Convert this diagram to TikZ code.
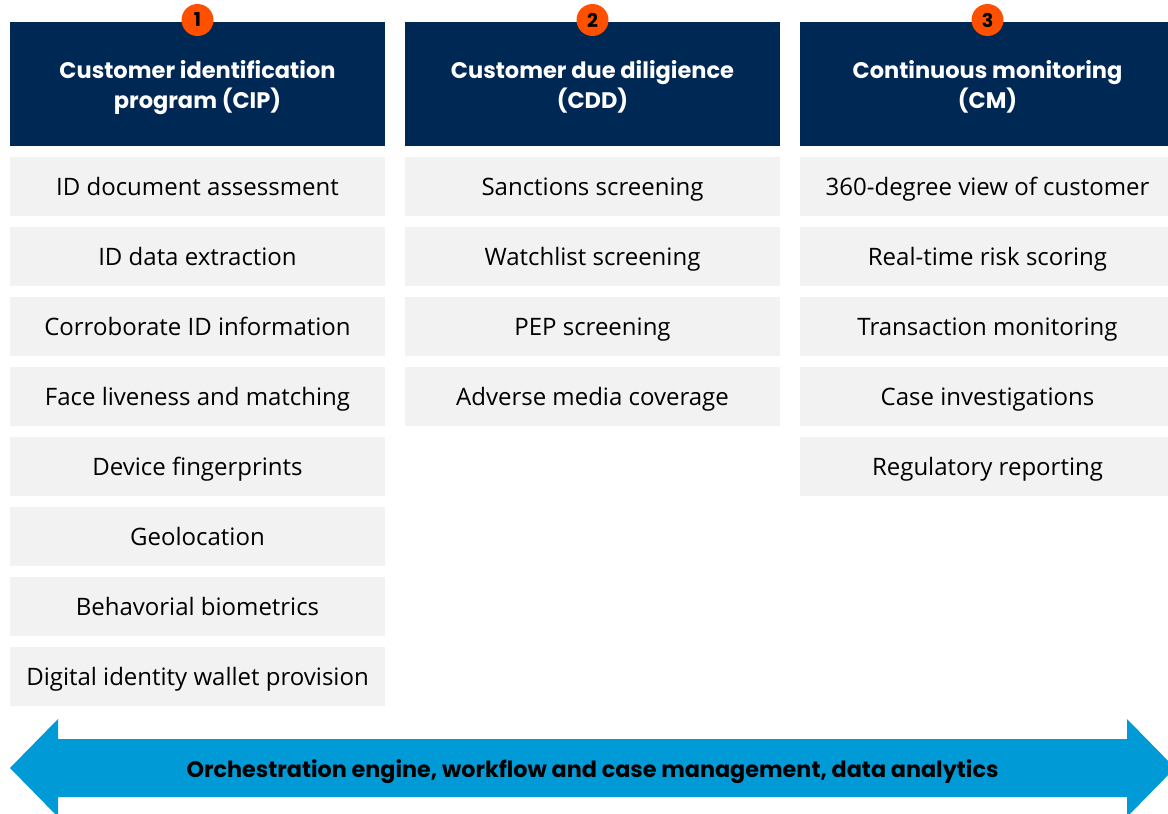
\documentclass[tikz,border=0pt]{standalone}
\usepackage{fontspec}
\setmainfont{Open Sans}
\newfontfamily\headfont{Poppins}[BoldFont={* Bold}]
\begin{document}
\begin{tikzpicture}[x=1pt,y=-1pt,
  colhead/.style={fill=navy, minimum width=375pt, minimum height=124pt, inner sep=0pt,
    text depth=-1pt,
    text=white, align=center, font=\headfont\fontsize{22.5}{30}\selectfont\bfseries},
  item/.style={fill=itemgray, minimum width=375pt, minimum height=59pt, inner sep=0pt,
    text height=17pt, text depth=0pt,
    text=black, font=\fontsize{24}{26}\selectfont},
  badge/.style={circle, fill=badgeorange, minimum size=32pt, inner sep=0pt,
    font=\headfont\fontsize{19}{19}\selectfont\bfseries, text=black}]
\definecolor{navy}{RGB}{0,40,85}
\definecolor{itemgray}{RGB}{242,242,242}
\definecolor{badgeorange}{RGB}{255,80,0}
\definecolor{arrowblue}{RGB}{0,155,215}
\useasboundingbox (0,0) rectangle (1168,814);
\clip (0,0) rectangle (1168,814);

% column headers
\node[colhead] (h1) at (197.5,84) {Customer identification\\program (CIP)};
\node[colhead] (h2) at (592.5,84) {Customer due diligience\\(CDD)};
\node[colhead] (h3) at (987.5,84) {Continuous monitoring\\(CM)};

% numbered badges
\node[badge] (b1) at (197.5,20) {1};
\node[badge] (b2) at (592.5,20) {2};
\node[badge] (b3) at (987.5,20) {3};

% column 1 items
\foreach \t [count=\i from 0] in {ID document assessment, ID data extraction,
  Corroborate ID information, Face liveness and matching, Device fingerprints,
  Geolocation, Behavorial biometrics, Digital identity wallet provision}
  \node[item] (c1-\i) at (197.5,186.5+70*\i) {\t};

% column 2 items
\foreach \t [count=\i from 0] in {Sanctions screening, Watchlist screening,
  PEP screening, Adverse media coverage}
  \node[item] (c2-\i) at (592.5,186.5+70*\i) {\t};

% column 3 items
\foreach \t [count=\i from 0] in {360-degree view of customer, Real-time risk scoring,
  Transaction monitoring, Case investigations, Regulatory reporting}
  \node[item] (c3-\i) at (987.5,186.5+70*\i) {\t};

% double-headed band
\fill[arrowblue] (10,768) -- (58,719) -- (58,739) -- (1127,739) -- (1127,719)
  -- (1175,768) -- (1127,817) -- (1127,797) -- (58,797) -- (58,817) -- cycle;
\node[font=\headfont\fontsize{22.3}{22}\selectfont\bfseries, text=black] (band) at (592.5,772)
  {Orchestration engine, workflow and case management, data analytics};
\end{tikzpicture}
\end{document}
